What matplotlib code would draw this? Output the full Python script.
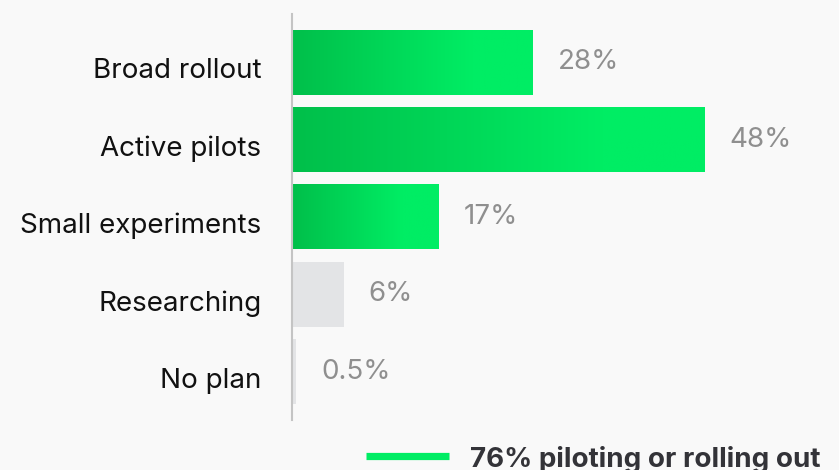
import matplotlib.pyplot as plt
import numpy as np
from matplotlib.colors import LinearSegmentedColormap
from matplotlib.lines import Line2D
from matplotlib.transforms import ScaledTranslation

plt.rcParams['font.family'] = ['Inter', 'DejaVu Sans']

stages = ['Broad rollout', 'Active pilots', 'Small experiments', 'Researching', 'No plan']
shares = [28, 48, 17, 6, 0.5]
in_motion = [True, True, True, False, False]

green = '#00ED64'
green_dark = '#00BF4A'
grey_bar = '#E3E4E6'
bg = '#F9F9F9'
fs = 20

fig = plt.figure(figsize=(8.39, 4.70), dpi=100, facecolor=bg)
ax = fig.add_axes([292 / 839, 50 / 470, 547 / 839, 406 / 470])
ax.set_facecolor(bg)

ramp = LinearSegmentedColormap.from_list('ramp', [(0, green_dark), (0.75, green), (1, green)])
grad = np.linspace(0, 1, 256).reshape(1, -1)
bar_h = 0.84

y = np.arange(len(stages))
for i, (val, hot) in enumerate(zip(shares, in_motion)):
    if hot:
        ax.imshow(grad, cmap=ramp, aspect='auto', interpolation='bilinear',
                  extent=(0, val, i + bar_h / 2, i - bar_h / 2), zorder=2)
    else:
        ax.barh(i, val, height=bar_h, color=grey_bar, zorder=2)
    ax.annotate(f'{val:g}%', (val, i), xytext=(25, 0), textcoords='offset pixels',
                va='center', ha='left', fontsize=fs, color='#8F8F8F')

ax.set_xlim(0, 547 / 8.6)
ax.set_ylim(len(stages) - 0.375, -0.625)
ax.set_yticks(y)
ax.set_yticklabels(stages, fontsize=fs, color='#111111')
ax.tick_params(axis='y', length=0, pad=22)
# nudge category labels down a little
shift = ScaledTranslation(0, -6 / 100, fig.dpi_scale_trans)
for lbl in ax.get_yticklabels():
    lbl.set_transform(lbl.get_transform() + shift)
ax.set_xticks([])
for side in ['top', 'right', 'bottom']:
    ax.spines[side].set_visible(False)
ax.spines['left'].set_color('#C4C4C4')
ax.spines['left'].set_linewidth(1.5)
ax.spines['left'].set_zorder(3)

# legend: share of respondents piloting or rolling out
total = shares[0] + shares[1]
fig.add_artist(Line2D([366 / 839, 449 / 839], [1 - 455.5 / 470] * 2,
                      color=green, linewidth=5.2, solid_capstyle='butt'))
fig.text(470 / 839, 1 - 467 / 470, f'{total:g}% piloting or rolling out',
         fontsize=fs, fontweight='bold', color='#333338', ha='left', va='baseline')

fig.savefig('out.png', dpi=100, facecolor=bg)
